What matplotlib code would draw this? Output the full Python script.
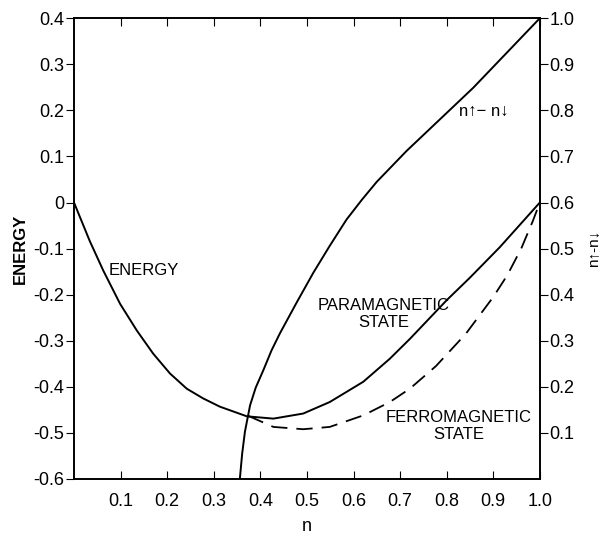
import matplotlib
matplotlib.use("Agg")
import matplotlib.pyplot as plt
import numpy as np

plt.rcParams['font.family'] = ['Liberation Sans', 'DejaVu Sans']

# energy of the paramagnetic state (left axis)
para_n = [0.0, 0.034, 0.063, 0.099, 0.135, 0.17, 0.206, 0.242, 0.277, 0.313, 0.371,
          0.428, 0.492, 0.549, 0.621, 0.678, 0.721, 0.8, 0.85, 0.914, 1.0]
para_e = [0.0, -0.084, -0.148, -0.22, -0.278, -0.328, -0.371, -0.404, -0.425, -0.443,
          -0.464, -0.469, -0.458, -0.433, -0.389, -0.339, -0.296, -0.212, -0.163, -0.097, 0.0]

# energy of the ferromagnetic state (dashed)
ferro_n = [0.374, 0.428, 0.492, 0.549, 0.621, 0.678, 0.721, 0.777, 0.841, 0.9, 0.93,
           0.96, 0.985, 1.0]
ferro_e = [-0.463, -0.487, -0.492, -0.487, -0.462, -0.433, -0.404, -0.355, -0.285,
           -0.205, -0.158, -0.10, -0.04, 0.0]

# magnetisation n_up - n_down (right axis)
mag_n = [0.356, 0.361, 0.367, 0.378, 0.39, 0.406, 0.424, 0.442, 0.478, 0.514, 0.549,
         0.585, 0.618, 0.65, 0.714, 0.785, 0.857, 0.929, 1.0]
mag_m = [0.0, 0.055, 0.103, 0.16, 0.198, 0.235, 0.279, 0.316, 0.383, 0.448, 0.506,
         0.563, 0.606, 0.645, 0.712, 0.78, 0.849, 0.925, 1.0]

x_ticks = [0.1, 0.2, 0.3, 0.4, 0.5, 0.6, 0.7, 0.8, 0.9, 1.0]
left_ticks = [0.4, 0.3, 0.2, 0.1, 0.0, -0.1, -0.2, -0.3, -0.4, -0.5, -0.6]
left_labels = ['0.4', '0.3', '0.2', '0.1', '0', '-0.1', '-0.2', '-0.3', '-0.4', '-0.5', '-0.6']
right_ticks = [0.1, 0.2, 0.3, 0.4, 0.5, 0.6, 0.7, 0.8, 0.9, 1.0]

fig = plt.figure(figsize=(6.1, 5.35), dpi=100)
ax = fig.add_axes([0.1213, 0.1047, 0.7637, 0.8613])
ax2 = ax.twinx()

ax.plot(para_n, para_e, color='black', lw=1.4)
ax.plot(ferro_n, ferro_e, color='black', lw=1.3, dashes=(9, 5))
ax2.plot(mag_n, mag_m, color='black', lw=1.4)

ax.set_xlim(0, 1.0)
ax.set_ylim(-0.6, 0.4)
ax2.set_ylim(0, 1.0)

ax.set_xticks(x_ticks)
ax.set_xticklabels(['%.1f' % v for v in x_ticks])
ax.set_yticks(left_ticks)
ax.set_yticklabels(left_labels)
ax2.set_yticks(right_ticks)
ax2.set_yticklabels(['%.1f' % v for v in right_ticks])

ax.tick_params(axis='x', direction='in', top=True, length=6, labelsize=13, pad=10)
ax.tick_params(axis='y', direction='out', length=6, labelsize=13, pad=1)
ax2.tick_params(axis='y', direction='out', length=6, labelsize=13, pad=1)

for a in (ax, ax2):
    for s in a.spines.values():
        s.set_linewidth(1.2)

ax.set_xlabel('n', fontsize=13, labelpad=6)
ax.set_ylabel('ENERGY', fontsize=12, labelpad=4, fontweight='bold')
ax2.set_ylabel('n↑-n↓', fontsize=11, labelpad=8, rotation=90)

ax.text(0.15, -0.148, 'ENERGY', fontsize=12, ha='center', va='center')
ax.text(0.665, -0.242, 'PARAMAGNETIC\nSTATE', fontsize=12, ha='center', va='center',
        linespacing=1.15)
ax.text(0.825, -0.485, 'FERROMAGNETIC\nSTATE', fontsize=12, ha='center', va='center',
        linespacing=1.15)
ax.text(0.88, 0.197, 'n↑− n↓', fontsize=12, ha='center', va='center')

fig.savefig('out.png', dpi=100)
